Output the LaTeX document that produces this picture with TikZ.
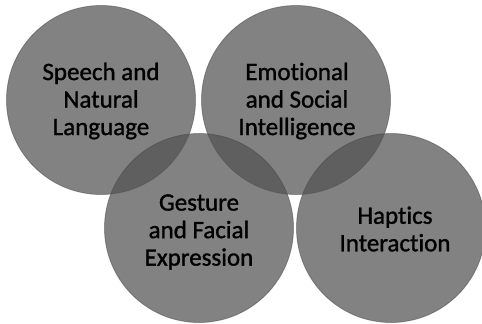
\documentclass[tikz,border=0pt]{standalone}
\usepackage{fontspec}
\setmainfont{Carlito}[FakeBold=1.2,Ligatures=NoCommon]
\begin{document}
\begin{tikzpicture}[x=1pt,y=-1pt,
  bubble/.style={fill={rgb,255:red,82;green,82;blue,82}, fill opacity=0.72, draw={rgb,255:red,70;green,70;blue,70}, draw opacity=0.5, line width=0.8pt},
  label/.style={align=center, font=\fontsize{25}{27.5}\selectfont, text=black}]
\useasboundingbox (0,0) rectangle (482,324);
\fill[white] (0,0) rectangle (482,324);
\path[bubble] (101,100) circle (94.5);
\path[bubble] (296,100) circle (94.5);
\path[bubble] (199,228) circle (94.5);
\path[bubble] (391,228) circle (94.5);
\node[label] (speech) at (101,101) {Speech and\\Natural\\Language};
\node[label] (emo) at (297,101) {Emotional\\and Social\\Intelligence};
\node[label] (gest) at (199,232) {Gesture\\and Facial\\Expression};
\node[label] (hapt) at (395,229) {Haptics\\Interaction};
\end{tikzpicture}
\end{document}
